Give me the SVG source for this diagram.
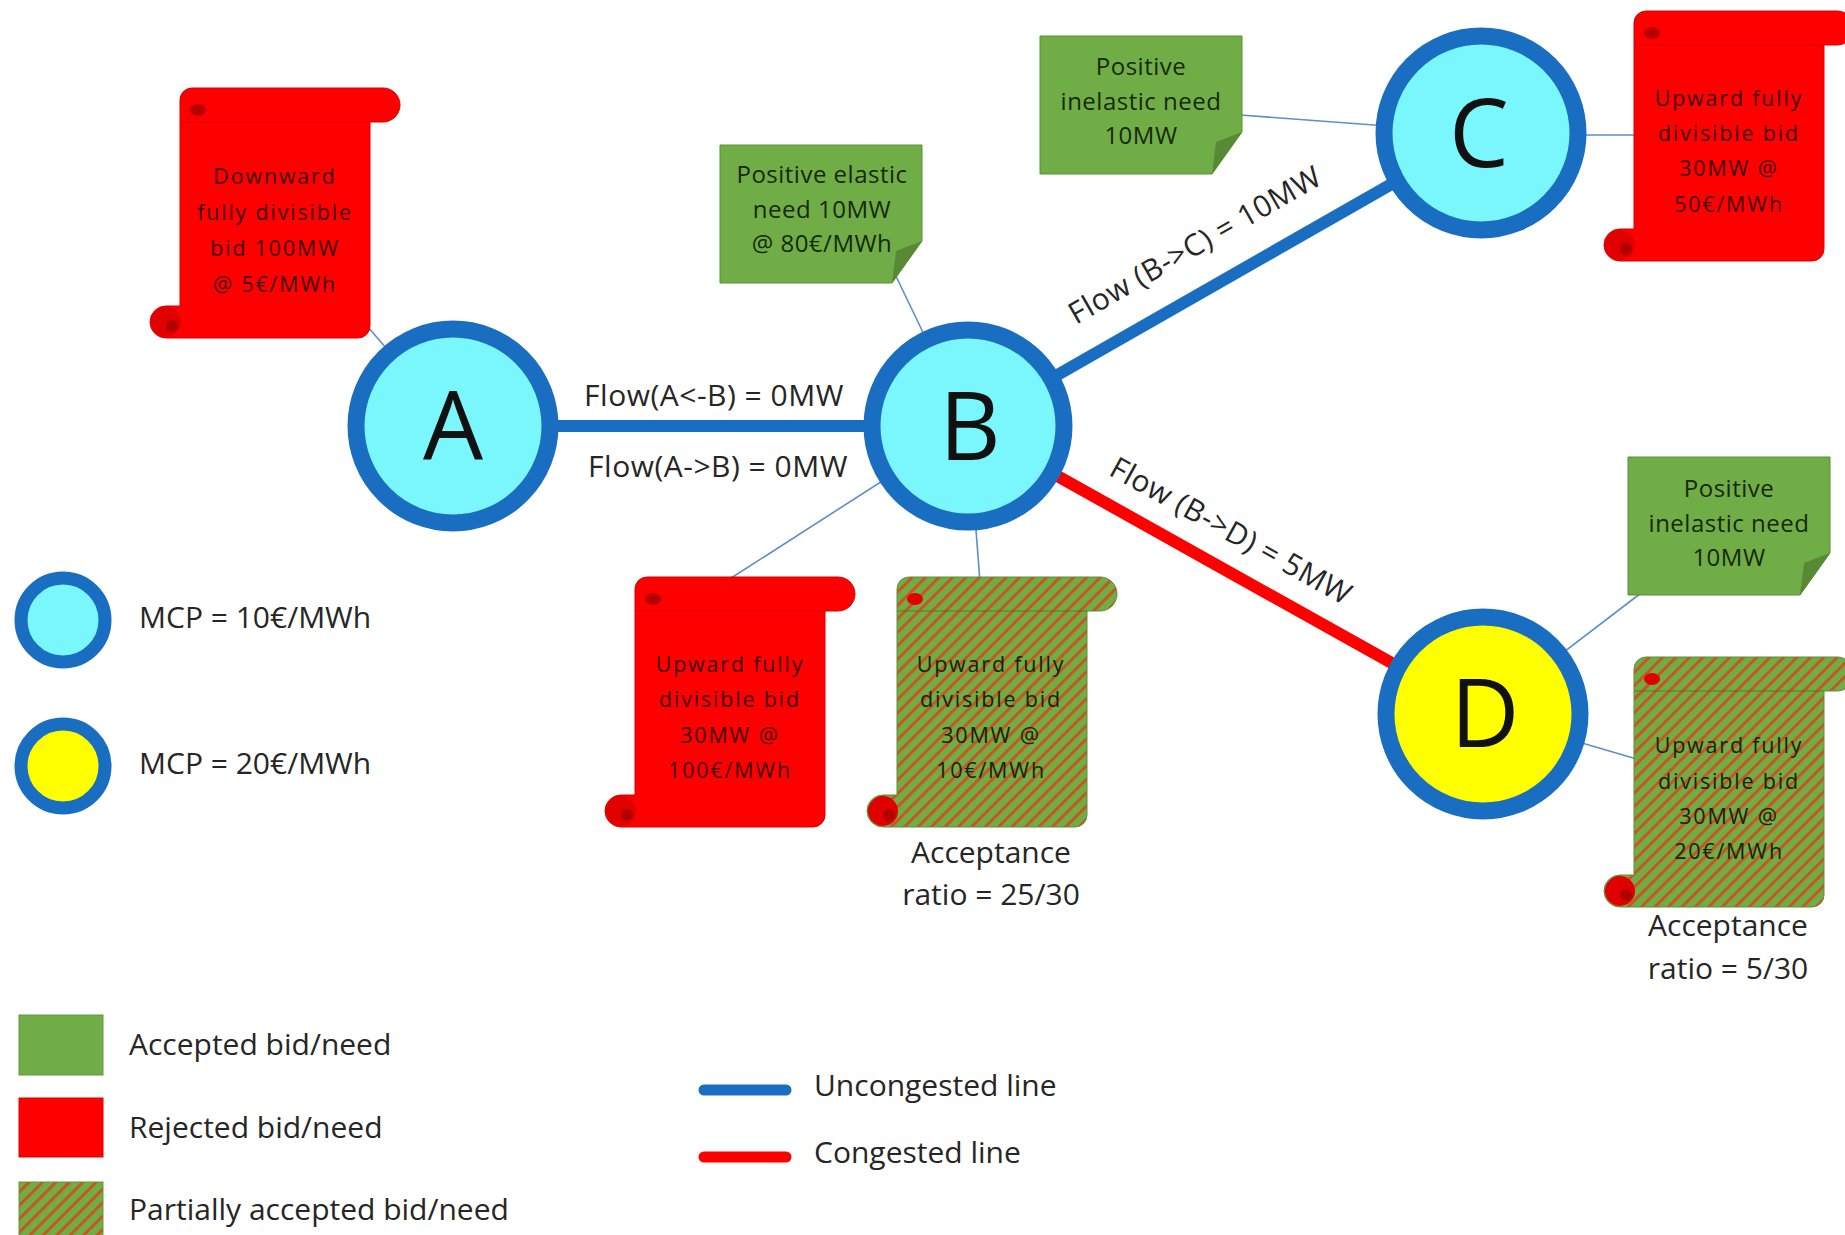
<svg xmlns="http://www.w3.org/2000/svg" xmlns:xlink="http://www.w3.org/1999/xlink" width="1845" height="1235" viewBox="0 0 1845 1235">
  <style>
    text { font-family: "Open Sans", "Liberation Sans", sans-serif; fill: #262626; }
    .node-ring { stroke: #1a6ec2; stroke-width: 17; }
    .node-letter { font-size: 95px; text-anchor: middle; fill: #111; }
    .link { stroke-width: 12; fill: none; }
    .uncongested { stroke: #1a6ec2; }
    .congested { stroke: #ff0000; }
    .callout { stroke: #5a8fcb; stroke-width: 1.6; fill: none; }
    .flow { font-size: 30px; letter-spacing: 0.5px; text-anchor: middle; }
    .scroll-txt { font-size: 21.5px; letter-spacing: 1.8px; text-anchor: middle; }
    .red-txt { fill: #400000; }
    .hatch-txt { fill: #142408; }
    .note-txt { font-size: 24px; letter-spacing: 0.5px; text-anchor: middle; fill: #16290a; }
    .ratio { font-size: 30px; text-anchor: middle; }
    .legend { font-size: 30px; }
  </style>
  <defs>
    <!-- diagonal stripes for partially accepted items -->
    <pattern id="hatch" patternUnits="userSpaceOnUse" width="9.5" height="9.5" patternTransform="rotate(45)">
      <rect width="9.5" height="9.5" fill="#70ad47"/>
      <rect width="3" height="9.5" fill="#c8561e"/>
    </pattern>
    <!-- vertical scroll outline, origin = top-left of the body -->
    <path id="scroll-outline" d="M12,0 H203 A17,17 0 0 1 203,34 H190 V238 A12,12 0 0 1 178,250 H-14 A16,16 0 0 1 -14,218 H0 V12 A12,12 0 0 1 12,0 Z"/>
    <g id="scroll-red">
      <use xlink:href="#scroll-outline" fill="#ff0000" stroke="#d80000" stroke-width="1"/>
      <line x1="0" y1="34" x2="190" y2="34" stroke="#c00000" stroke-opacity="0.35" stroke-width="1.5"/>
      <ellipse cx="18" cy="22" rx="8" ry="6" fill="#b80000"/>
      <circle cx="-14" cy="234" r="15" fill="#e00000"/>
      <circle cx="-8" cy="238" r="6" fill="#b00000"/>
    </g>
    <g id="scroll-hatch">
      <use xlink:href="#scroll-outline" fill="url(#hatch)" stroke="#5d8f3a" stroke-width="1"/>
      <line x1="0" y1="34" x2="190" y2="34" stroke="#3f6a22" stroke-opacity="0.45" stroke-width="1.5"/>
      <ellipse cx="18" cy="22" rx="8" ry="6" fill="#e00000"/>
      <circle cx="-14" cy="234" r="15" fill="#e00000"/>
      <circle cx="-8" cy="238" r="6" fill="#b00000"/>
    </g>
    <!-- note with folded bottom-right corner -->
    <g id="note">
      <path d="M0,0 H202 V96 L172,138 H0 Z" fill="#70ad47" stroke="#5a8f37" stroke-width="1"/>
      <path d="M202,96 L172,138 L176,106 Z" fill="#588a35"/>
    </g>
  </defs>

  <rect width="1845" height="1235" fill="#ffffff"/>

  <g id="connectors">
    <!-- thin callout lines -->
    <line class="callout" x1="453" y1="426" x2="362" y2="320"/>
    <line class="callout" x1="968" y1="426" x2="893" y2="270"/>
    <line class="callout" x1="1481" y1="133" x2="1240" y2="115"/>
    <line class="callout" x1="1481" y1="135" x2="1640" y2="135"/>
    <line class="callout" x1="968" y1="426" x2="728" y2="580"/>
    <line class="callout" x1="968" y1="426" x2="980" y2="582"/>
    <line class="callout" x1="1483" y1="714" x2="1645" y2="590"/>
    <line class="callout" x1="1483" y1="714" x2="1640" y2="760"/>
    <!-- transmission lines -->
    <line class="link uncongested" x1="453" y1="426" x2="968" y2="426"/>
    <line class="link uncongested" x1="968" y1="426" x2="1481" y2="133"/>
    <line class="link congested" x1="968" y1="426" x2="1483" y2="714"/>
    <!-- flow labels -->
    <text class="flow" x="714" y="406">Flow(A&lt;-B) = 0MW</text>
    <text class="flow" x="718" y="477">Flow(A-&gt;B) = 0MW</text>
    <text class="flow" transform="translate(1200,254) rotate(-29.8)">Flow (B-&gt;C) = 10MW</text>
    <text class="flow" transform="translate(1226,540) rotate(29)">Flow (B-&gt;D) = 5MW</text>
  </g>

  <g id="node-A">
    <circle class="node-ring" cx="453" cy="426" r="97" fill="#7af6fd"/>
    <text class="node-letter" x="453" y="460">A</text>
  </g>
  <g id="node-B">
    <circle class="node-ring" cx="968" cy="426" r="96" fill="#7af6fd"/>
    <text class="node-letter" x="970" y="460">B</text>
  </g>
  <g id="node-C">
    <circle class="node-ring" cx="1481" cy="133" r="97" fill="#7af6fd"/>
    <text class="node-letter" x="1479" y="167">C</text>
  </g>
  <g id="node-D">
    <circle class="node-ring" cx="1483" cy="714" r="97" fill="#ffff00"/>
    <text class="node-letter" x="1485" y="747">D</text>
  </g>

  <g id="bid-A-downward">
    <use xlink:href="#scroll-red" x="180" y="88"/>
    <text class="scroll-txt red-txt" x="275" y="184">Downward</text>
    <text class="scroll-txt red-txt" x="275" y="220">fully divisible</text>
    <text class="scroll-txt red-txt" x="275" y="256">bid 100MW</text>
    <text class="scroll-txt red-txt" x="275" y="292">@ 5€/MWh</text>
  </g>

  <g id="need-B-elastic">
    <use xlink:href="#note" x="720" y="145"/>
    <text class="note-txt" x="822" y="183">Positive elastic</text>
    <text class="note-txt" x="822" y="218">need 10MW</text>
    <text class="note-txt" x="822" y="252">@ 80€/MWh</text>
  </g>

  <g id="need-C-inelastic">
    <use xlink:href="#note" x="1040" y="36"/>
    <text class="note-txt" x="1141" y="75">Positive</text>
    <text class="note-txt" x="1141" y="110">inelastic need</text>
    <text class="note-txt" x="1141" y="144">10MW</text>
  </g>

  <g id="bid-C-upward">
    <use xlink:href="#scroll-red" x="1634" y="11"/>
    <text class="scroll-txt red-txt" x="1729" y="106">Upward fully</text>
    <text class="scroll-txt red-txt" x="1729" y="141">divisible bid</text>
    <text class="scroll-txt red-txt" x="1729" y="176">30MW @</text>
    <text class="scroll-txt red-txt" x="1729" y="212">50€/MWh</text>
  </g>

  <g id="bid-B-upward-rejected">
    <use xlink:href="#scroll-red" x="635" y="577"/>
    <text class="scroll-txt red-txt" x="730" y="672">Upward fully</text>
    <text class="scroll-txt red-txt" x="730" y="707">divisible bid</text>
    <text class="scroll-txt red-txt" x="730" y="743">30MW @</text>
    <text class="scroll-txt red-txt" x="730" y="778">100€/MWh</text>
  </g>

  <g id="bid-B-upward-partial">
    <use xlink:href="#scroll-hatch" x="897" y="577"/>
    <text class="scroll-txt hatch-txt" x="991" y="672">Upward fully</text>
    <text class="scroll-txt hatch-txt" x="991" y="707">divisible bid</text>
    <text class="scroll-txt hatch-txt" x="991" y="743">30MW @</text>
    <text class="scroll-txt hatch-txt" x="991" y="778">10€/MWh</text>
    <text class="ratio" x="991" y="863">Acceptance</text>
    <text class="ratio" x="991" y="905">ratio = 25/30</text>
  </g>

  <g id="need-D-inelastic">
    <use xlink:href="#note" x="1628" y="457"/>
    <text class="note-txt" x="1729" y="497">Positive</text>
    <text class="note-txt" x="1729" y="532">inelastic need</text>
    <text class="note-txt" x="1729" y="566">10MW</text>
  </g>

  <g id="bid-D-upward-partial">
    <use xlink:href="#scroll-hatch" x="1634" y="657"/>
    <text class="scroll-txt hatch-txt" x="1729" y="753">Upward fully</text>
    <text class="scroll-txt hatch-txt" x="1729" y="789">divisible bid</text>
    <text class="scroll-txt hatch-txt" x="1729" y="824">30MW @</text>
    <text class="scroll-txt hatch-txt" x="1729" y="859">20€/MWh</text>
    <text class="ratio" x="1728" y="936">Acceptance</text>
    <text class="ratio" x="1728" y="979">ratio = 5/30</text>
  </g>

  <g id="legend-prices">
    <circle cx="63" cy="620" r="42" fill="#7af6fd" stroke="#1a6ec2" stroke-width="13"/>
    <text class="legend" x="139" y="628">MCP = 10€/MWh</text>
    <circle cx="63" cy="766" r="42" fill="#ffff00" stroke="#1a6ec2" stroke-width="13"/>
    <text class="legend" x="139" y="774">MCP = 20€/MWh</text>
  </g>

  <g id="legend-bids">
    <rect x="19" y="1015" width="84" height="60" fill="#70ad47" stroke="#62993d" stroke-width="1"/>
    <text class="legend" x="129" y="1055">Accepted bid/need</text>
    <rect x="19" y="1098" width="84" height="59" fill="#ff0000" stroke="#e00000" stroke-width="1"/>
    <text class="legend" x="129" y="1138">Rejected bid/need</text>
    <rect x="19" y="1182" width="84" height="60" fill="url(#hatch)" stroke="#62993d" stroke-width="1"/>
    <text class="legend" x="129" y="1220">Partially accepted bid/need</text>
  </g>

  <g id="legend-lines">
    <line x1="704" y1="1090" x2="786" y2="1090" stroke="#1a6ec2" stroke-width="11" stroke-linecap="round"/>
    <text class="legend" x="814" y="1096">Uncongested line</text>
    <line x1="704" y1="1157" x2="786" y2="1157" stroke="#ff0000" stroke-width="11" stroke-linecap="round"/>
    <text class="legend" x="814" y="1163">Congested line</text>
  </g>
</svg>
